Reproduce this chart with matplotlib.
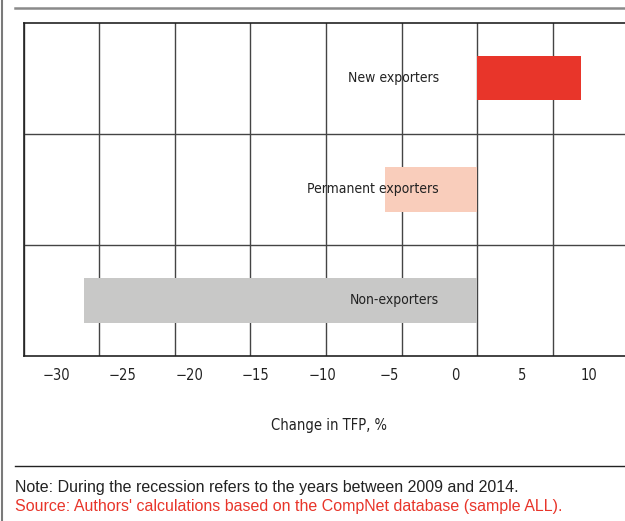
import matplotlib
matplotlib.use("Agg")
import matplotlib.pyplot as plt
from matplotlib.lines import Line2D
from matplotlib import font_manager as fm

# ---- data ----
categories = ["Non-exporters", "Permanent exporters", "New exporters"]
values = [-26.0, -6.1, 6.9]
colors = ["#c8c8c7", "#f9cdbb", "#e8352a"]
tick_values = [-30, -25, -20, -15, -10, -5, 0, 5, 10]
tick_labels = ["\u221230", "\u221225", "\u221220", "\u221215", "\u221210", "\u22125", "0", "5", "10"]
xlabel = "Change in TFP, %"
note = "Note: During the recession refers to the years between 2009 and 2014."
source = "Source: Authors' calculations based on the CompNet database (sample ALL)."

plt.rcParams["font.family"] = ["DejaVu Sans"]
plt.rcParams["font.stretch"] = "condensed"
regular = ["Liberation Sans", "DejaVu Sans"]

W, H = 625, 521
fig = plt.figure(figsize=(W / 100, H / 100), dpi=100)

def fx(px):
    return px / W

def fy(py):
    return 1 - py / H

ax = fig.add_axes([fx(24), fy(356), fx(628) - fx(24), fy(22.7) - fy(356)])
ypos = list(range(len(categories)))
ax.barh(ypos, values, height=0.4, color=colors, zorder=3)
ax.set_xlim(-30, 10)
ax.set_ylim(-0.5, len(categories) - 0.5)

# grid lines
ax.set_xticks(tick_values)
ax.set_xticklabels([])
ax.tick_params(axis="x", length=0)
ax.set_yticks([])
ax.set_yticks([i + 0.5 for i in ypos[:-1]], minor=True)
ax.tick_params(axis="y", which="both", length=0)
ax.grid(axis="x", which="major", color="#444444", linewidth=1.0, zorder=1)
ax.grid(axis="y", which="minor", color="#444444", linewidth=1.0, zorder=1)
for s in ["left", "top", "bottom"]:
    ax.spines[s].set_color("#222222")
    ax.spines[s].set_linewidth(1.2)
ax.spines["right"].set_visible(False)

# category labels inside plot, right-aligned left of zero
for y, c in zip(ypos, categories):
    ax.annotate(c, xy=(0, y), xytext=(-27.5, 0), textcoords="offset points",
                ha="right", va="center", fontsize=10, color="#222222", zorder=4,
                fontstretch="condensed")

# tick labels on a secondary scale (as in the original chart)
A, B = -32.4, 12.95
sec = ax.secondary_xaxis("bottom", functions=(lambda v: A + (v + 30) / 40 * (B - A),
                                               lambda s: (s - A) / (B - A) * 40 - 30))
sec.set_xticks(tick_values)
sec.set_xticklabels(tick_labels, fontsize=10.5, color="#222222", fontstretch="condensed")
sec.tick_params(length=0, pad=9)
sec.spines["bottom"].set_visible(False)

fig.text(fx(329), fy(425.7), xlabel, ha="center", va="center", fontsize=10.5,
         color="#222222", fontstretch="condensed")

# frame decorations
fig.add_artist(Line2D([fx(2), fx(2)], [0, 1], color="#7a7a7a", linewidth=1.5))
fig.add_artist(Line2D([fx(15), 1], [fy(7.5), fy(7.5)], color="#8a8a8a", linewidth=1.8))
fig.add_artist(Line2D([fx(15), 1], [fy(466), fy(466)], color="#222222", linewidth=1.0))

fig.text(fx(15), fy(487.5), note, ha="left", va="center", fontsize=11.5,
         color="#222222", family=regular)
fig.text(fx(15), fy(506), source, ha="left", va="center", fontsize=11.5,
         color="#e8352a", family=regular)

fig.savefig("out.png", dpi=100)
